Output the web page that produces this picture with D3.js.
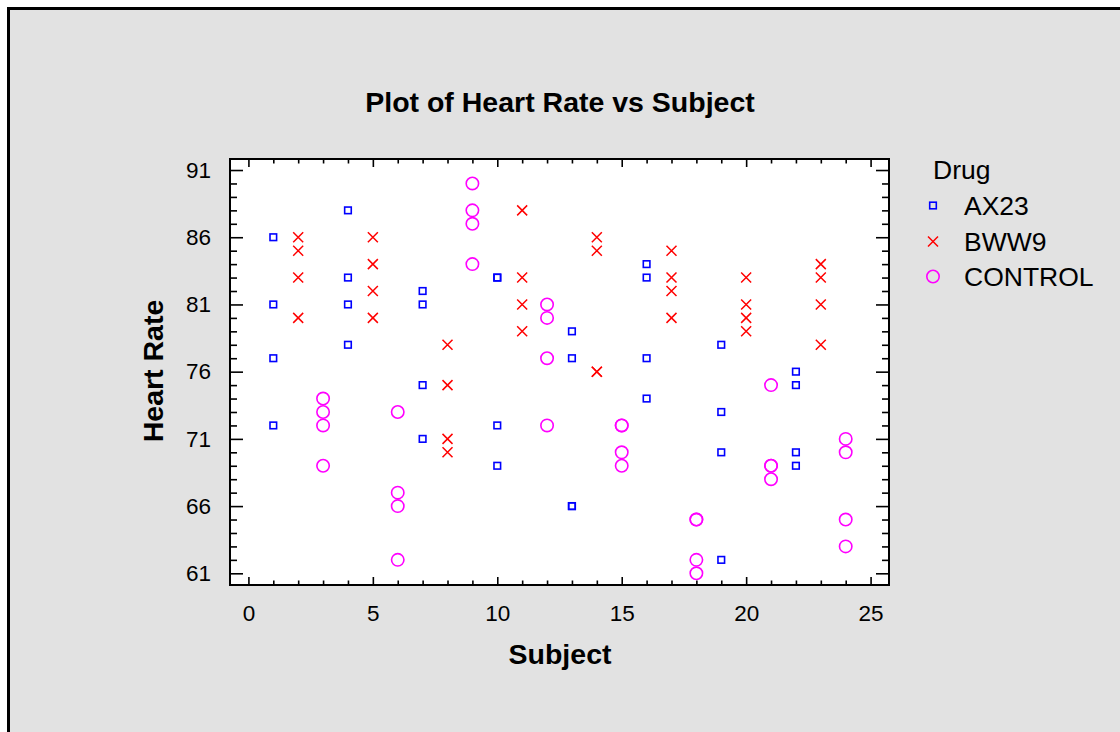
<!DOCTYPE html>
<html>
<head>
<meta charset="utf-8">
<script src="https://cdn.jsdelivr.net/npm/d3@7"></script>
<style>
  html, body { margin: 0; padding: 0; background: #ffffff; }
  svg { display: block; }
  text { font-family: "Liberation Sans", Arial, sans-serif; }
</style>
</head>
<body>
<svg id="chart" width="1120" height="732"></svg>
<script>
// ---- Data ----
const drugNames = ["AX23", "BWW9", "CONTROL"];

const ax23Subject = [1,1,1,1, 4,4,4,4, 7,7,7,7, 10,10,10,10, 13,13,13,13, 16,16,16,16, 19,19,19,19, 22,22,22,22];
const ax23Rate    = [86,81,77,72, 88,83,81,78, 82,81,75,71, 83,83,72,69, 79,77,66,66, 84,83,77,74, 78,73,70,62, 76,75,70,69];

const bww9Subject = [2,2,2,2, 5,5,5,5, 8,8,8,8, 11,11,11,11, 14,14,14,14, 17,17,17,17, 20,20,20,20, 23,23,23,23];
const bww9Rate    = [86,85,83,80, 86,84,82,80, 78,75,71,70, 88,83,81,79, 86,85,76,76, 85,83,82,80, 83,81,80,79, 84,83,81,78];

const controlSubject = [3,3,3,3, 6,6,6,6, 9,9,9,9, 12,12,12,12, 15,15,15,15, 18,18,18,18, 21,21,21,21, 24,24,24,24];
const controlRate    = [74,73,72,69, 73,67,66,62, 90,88,87,84, 81,80,77,72, 72,72,70,69, 65,65,62,61, 75,69,69,68, 71,70,65,63];

const xMajorTicks = [0, 5, 10, 15, 20, 25];
const yMajorTicks = [61, 66, 71, 76, 81, 86, 91];

const titleText = "Plot of Heart Rate vs Subject";
const xTitle = "Subject";
const yTitle = "Heart Rate";
const legendTitle = "Drug";

// ---- Layout ----
const svg = d3.select("#chart");
const plot = { left: 230, right: 889, top: 159, bottom: 585 };

const x = d3.scaleLinear().domain([-0.74, 25.74]).range([plot.left, plot.right]);
const y = d3.scaleLinear().domain([60.13, 91.82]).range([plot.bottom, plot.top]);

const xMinor = d3.range(0, 26).filter(v => v % 5 !== 0);
const yMinor = d3.range(61, 92).filter(v => (v - 61) % 5 !== 0);

// background + frame
svg.append("rect").attr("x", 0).attr("y", 0).attr("width", 1120).attr("height", 732).attr("fill", "#ffffff");
svg.append("rect").attr("x", 8.5).attr("y", 8.5).attr("width", 1130).attr("height", 740)
  .attr("fill", "#e2e2e2").attr("stroke", "#000").attr("stroke-width", 3);

// plot area
svg.append("rect").attr("x", plot.left).attr("y", plot.top)
  .attr("width", plot.right - plot.left).attr("height", plot.bottom - plot.top)
  .attr("fill", "#ffffff");

function styleAxis(g) {
  g.select(".domain").remove();
  g.selectAll(".tick line").attr("stroke", "#000").attr("stroke-width", 1.6);
  g.selectAll(".tick text").attr("fill", "#000").style("font-size", "22.5px")
    .style("font-family", "'Liberation Sans', Arial, sans-serif");
}

// Y axes (left labelled, right ticks only)
svg.append("g").attr("transform", `translate(${plot.left},0)`)
  .call(d3.axisLeft(y).tickValues(yMajorTicks).tickSize(-13).tickPadding(19).tickFormat(d3.format("d")))
  .call(styleAxis);
svg.append("g").attr("transform", `translate(${plot.left},0)`)
  .call(d3.axisLeft(y).tickValues(yMinor).tickSize(-7).tickFormat(""))
  .call(styleAxis);
svg.append("g").attr("transform", `translate(${plot.right},0)`)
  .call(d3.axisRight(y).tickValues(yMajorTicks).tickSize(-13).tickFormat(""))
  .call(styleAxis);
svg.append("g").attr("transform", `translate(${plot.right},0)`)
  .call(d3.axisRight(y).tickValues(yMinor).tickSize(-7).tickFormat(""))
  .call(styleAxis);

// X axes (bottom labelled, top ticks only)
svg.append("g").attr("transform", `translate(0,${plot.bottom})`)
  .call(d3.axisBottom(x).tickValues(xMajorTicks).tickSize(-8).tickPadding(20).tickFormat(d3.format("d")))
  .call(styleAxis);
svg.append("g").attr("transform", `translate(0,${plot.bottom})`)
  .call(d3.axisBottom(x).tickValues(xMinor).tickSize(-4.5).tickFormat(""))
  .call(styleAxis);
svg.append("g").attr("transform", `translate(0,${plot.top})`)
  .call(d3.axisTop(x).tickValues(xMajorTicks).tickSize(-8).tickFormat(""))
  .call(styleAxis);
svg.append("g").attr("transform", `translate(0,${plot.top})`)
  .call(d3.axisTop(x).tickValues(xMinor).tickSize(-4.5).tickFormat(""))
  .call(styleAxis);

// plot border
svg.append("rect").attr("x", plot.left).attr("y", plot.top)
  .attr("width", plot.right - plot.left).attr("height", plot.bottom - plot.top)
  .attr("fill", "none").attr("stroke", "#000").attr("stroke-width", 2);

// ---- Marker drawers ----
function drawSquare(g, cx, cy) {
  g.append("rect").attr("x", cx - 3.3).attr("y", cy - 3.3).attr("width", 6.6).attr("height", 6.6)
    .attr("fill", "none").attr("stroke", "#0000ff").attr("stroke-width", 1.6);
}
function drawCross(g, cx, cy) {
  const s = 5;
  g.append("path").attr("d", `M${cx - s},${cy - s}L${cx + s},${cy + s}M${cx - s},${cy + s}L${cx + s},${cy - s}`)
    .attr("fill", "none").attr("stroke", "#ff0000").attr("stroke-width", 1.5);
}
function drawCircle(g, cx, cy) {
  g.append("circle").attr("cx", cx).attr("cy", cy).attr("r", 6.2)
    .attr("fill", "none").attr("stroke", "#ff00ff").attr("stroke-width", 1.6);
}

const series = [
  { name: drugNames[0], subj: ax23Subject, rate: ax23Rate, draw: drawSquare },
  { name: drugNames[1], subj: bww9Subject, rate: bww9Rate, draw: drawCross },
  { name: drugNames[2], subj: controlSubject, rate: controlRate, draw: drawCircle }
];

const marks = svg.append("g");
series.forEach(s => {
  s.subj.forEach((sv, i) => s.draw(marks, x(sv), y(s.rate[i])));
});

// ---- Titles ----
svg.append("text").attr("x", 560).attr("y", 112).attr("text-anchor", "middle")
  .style("font-size", "28.5px").style("font-weight", "bold").text(titleText);
svg.append("text").attr("x", 560).attr("y", 664).attr("text-anchor", "middle")
  .style("font-size", "28.5px").style("font-weight", "bold").text(xTitle);
svg.append("text").attr("transform", "translate(163,371) rotate(-90)").attr("text-anchor", "middle")
  .style("font-size", "28.5px").style("font-weight", "bold").text(yTitle);

// ---- Legend ----
const legend = svg.append("g");
legend.append("text").attr("x", 933).attr("y", 179).style("font-size", "26.5px").text(legendTitle);
const legendRows = [215, 251, 286];
series.forEach((s, i) => {
  s.draw(legend, 933, legendRows[i] - 9.5);
  legend.append("text").attr("x", 964).attr("y", legendRows[i]).style("font-size", "26.5px").text(s.name);
});
</script>
</body>
</html>
